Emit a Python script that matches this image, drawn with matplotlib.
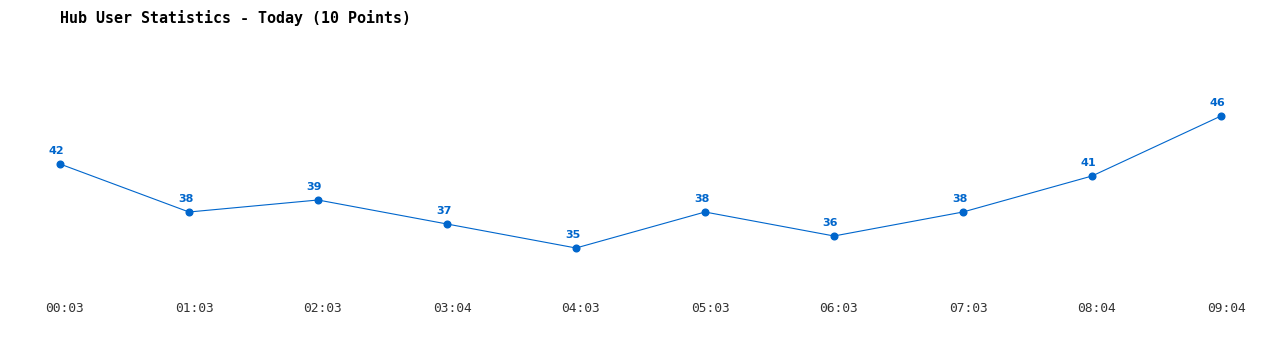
import matplotlib
matplotlib.use('Agg')
import matplotlib.pyplot as plt
from matplotlib.transforms import ScaledTranslation

# data
times = ['00:03', '01:03', '02:03', '03:04', '04:03', '05:03', '06:03', '07:03', '08:04', '09:04']
users = [42, 38, 39, 37, 35, 38, 36, 38, 41, 46]

blue = '#0066cc'
mono = ['DejaVu Sans Mono']

fig = plt.figure(figsize=(12.8, 3.5), dpi=100)
W, H = 1280, 350
ax = fig.add_axes([0, 55 / H, 1, 295 / H])

x = list(range(len(users)))
ax.plot(x, users, color=blue, lw=0.8, marker='o', ms=4.8, zorder=3)
for xi, v in zip(x, users):
    ax.annotate(str(v), (xi, v), xytext=(-2.5, 9.4), textcoords='offset points',
                ha='center', va='center', color=blue, fontsize=8,
                fontweight='bold', family='DejaVu Sans')

step = 129
ax.set_xlim(-60 / step, (W - 60) / step)
ax.set_ylim(35 - 47 / 12, 35 + 248 / 12)
ax.set_xticks(x)
ax.set_xticklabels(times, family=mono, fontsize=9.3, color='#333333')
ax.tick_params(axis='x', length=0, pad=5)
# labels sit a few pixels right of the points
shift = ScaledTranslation(5 / 100, 0, fig.dpi_scale_trans)
for lbl in ax.get_xticklabels():
    lbl.set_transform(lbl.get_transform() + shift)
ax.set_yticks([])
for s in ax.spines.values():
    s.set_visible(False)

fig.text(60 / W, 1 - 18 / H, 'Hub User Statistics - Today (10 Points)',
         family=mono, fontsize=10.8, fontweight='bold', va='center', ha='left')

fig.savefig('out.png', dpi=100, facecolor='white')
